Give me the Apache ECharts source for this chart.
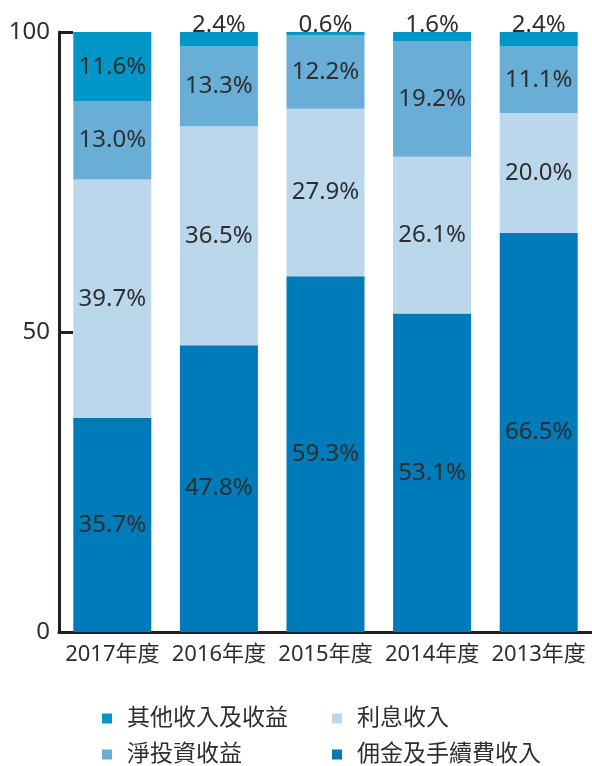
<!DOCTYPE html>
<html>
<head>
<meta charset="utf-8">
<style>
  html, body { margin: 0; padding: 0; background: #fff; }
  #chart { width: 592px; height: 766px; }
</style>
<script src="https://cdn.jsdelivr.net/npm/echarts@6/dist/echarts.min.js"></script>
</head>
<body>
<div id="chart"></div>
<script>
// 收入構成（%）
var years = ['2017年度', '2016年度', '2015年度', '2014年度', '2013年度']
var commission = [35.7, 47.8, 59.3, 53.1, 66.5] // 佣金及手續費收入
var interest = [39.7, 36.5, 27.9, 26.1, 20.0] // 利息收入
var investment = [13.0, 13.3, 12.2, 19.2, 11.1] // 淨投資收益
var other = [11.6, 2.4, 0.6, 1.6, 2.4] // 其他收入及收益
var yTicks = [0, 50, 100]

var font = '"Noto Sans", "Noto Sans CJK TC", sans-serif'
var textColor = '#2e2e2e'
var axisColor = '#231f20'

function seg (name, values, color) {
  return {
    name: name,
    type: 'bar',
    stack: 'total',
    barWidth: 78,
    itemStyle: { color: color },
    label: {
      show: true,
      position: 'inside',
      color: textColor,
      fontFamily: font,
      fontSize: 24,
      formatter: function (p) {
        return p.value.toFixed(1) + '%'
      }
    },
    data: values.map(function (v) {
      if (v < 5) {
        // 太薄的放在柱子上方
        return { value: v, label: { position: 'top', distance: -5 } }
      }
      return v
    })
  }
}

// 圖例：兩列，每項單獨擺放
function legendItem (name, left, top) {
  return {
    left: left,
    top: top,
    itemWidth: 10,
    itemHeight: 10,
    icon: 'rect',
    textStyle: { fontFamily: font, fontSize: 23, color: textColor, padding: [0, 0, 0, 10] },
    data: [name]
  }
}

var myChart = echarts.init(document.getElementById('chart'))
var option = {
  animation: false,
  grid: {
    left: 59,
    top: 32,
    width: 535,
    height: 600
  },
  legend: [
    legendItem('其他收入及收益', 97, 702),
    legendItem('淨投資收益', 97, 738),
    legendItem('利息收入', 327, 702),
    legendItem('佣金及手續費收入', 327, 738)
  ],
  xAxis: {
    type: 'category',
    data: years,
    axisLine: { lineStyle: { color: axisColor, width: 3 } },
    axisTick: { inside: true, length: 15, lineStyle: { color: axisColor, width: 3 } },
    axisLabel: { interval: 0, hideOverlap: false, fontFamily: font, fontSize: 22, color: textColor, margin: 12 }
  },
  yAxis: {
    type: 'value',
    min: yTicks[0],
    max: yTicks[yTicks.length - 1],
    interval: yTicks[1] - yTicks[0],
    splitLine: { show: false },
    axisLine: { show: true, lineStyle: { color: axisColor, width: 3 } },
    axisTick: { show: true, inside: true, length: 14, lineStyle: { color: axisColor, width: 3 } },
    axisLabel: { fontFamily: font, fontSize: 24, color: textColor, margin: 9 }
  },
  series: [
    seg('佣金及手續費收入', commission, '#007bb9'),
    seg('利息收入', interest, '#bbd7eb'),
    seg('淨投資收益', investment, '#68aed6'),
    seg('其他收入及收益', other, '#0096c8')
  ]
}
myChart.setOption(option)
</script>
</body>
</html>
